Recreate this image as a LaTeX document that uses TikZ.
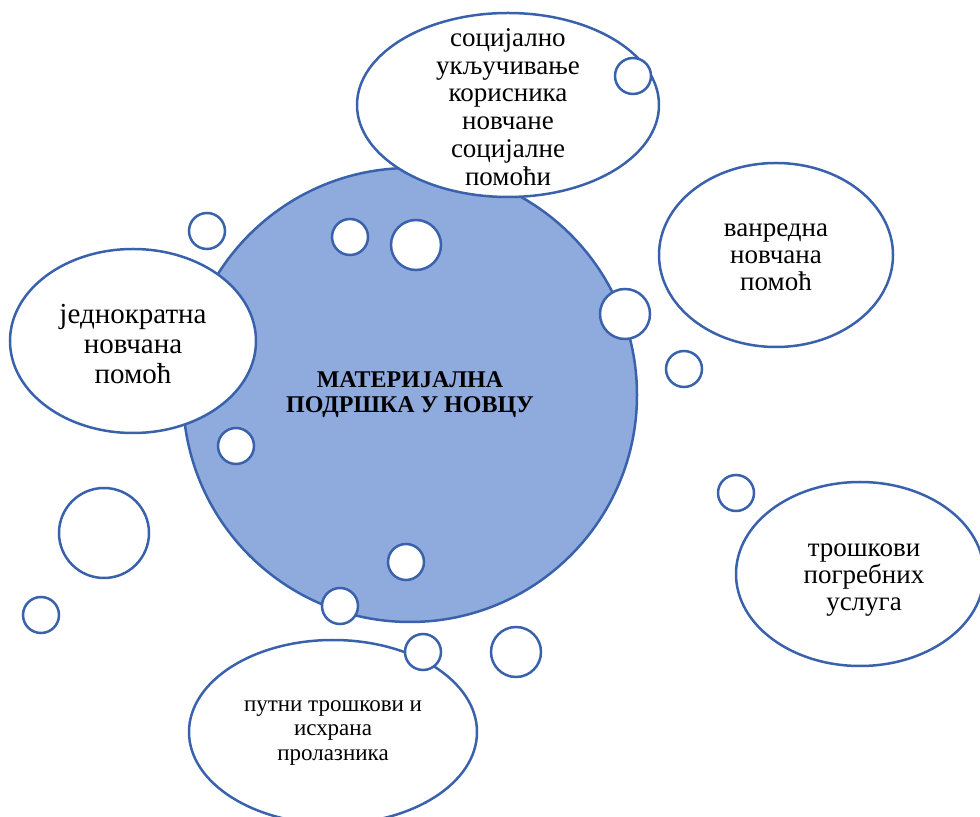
\documentclass[tikz,border=0pt]{standalone}
\usepackage{fontspec}
\setmainfont{Liberation Serif}
\usepackage{tikz}
\definecolor{bubbleline}{RGB}{58,98,172}
\definecolor{bigfill}{RGB}{143,170,220}
\begin{document}
\begin{tikzpicture}[x=0.5pt,y=-0.5pt,
  bubble/.style={draw=bubbleline,line width=1.25pt,fill=white},
  lbl/.style={align=center,text=black}]
\useasboundingbox (0,0) rectangle (980,817);
% central circle
\draw[bubble,fill=bigfill] (410,395) circle [radius=227];
\node[lbl,font=\fontsize{12}{12.5}\selectfont\bfseries] (centre) at (410,395) {МАТЕРИЈАЛНА\\ПОДРШКА У НОВЦУ};
% ellipses
\draw[bubble] (508,105) ellipse [x radius=151,y radius=92];
\draw[bubble] (133,341) ellipse [x radius=123,y radius=92];
\draw[bubble] (776,255) ellipse [x radius=117,y radius=92];
\draw[bubble] (860,574) ellipse [x radius=124,y radius=92];
\draw[bubble] (333,732) ellipse [x radius=144,y radius=92];
\node[lbl,font=\fontsize{13.5}{13.9}\selectfont] (social) at (508,107) {социјално\\укључивање\\корисника\\новчане\\социјалне\\помоћи};
\node[lbl,font=\fontsize{14.5}{15}\selectfont] (oneoff) at (133,344) {једнократна\\новчана\\помоћ};
\node[lbl,font=\fontsize{13.5}{13.5}\selectfont] (extra) at (776,257) {ванредна\\новчана\\помоћ};
\node[lbl,font=\fontsize{13.5}{13.5}\selectfont] (funeral) at (864,580) {трошкови\\погребних\\услуга};
\node[lbl,font=\fontsize{11.5}{12.3}\selectfont] (travel) at (333,733) {путни трошкови и\\исхрана\\пролазника};
% small bubbles
\draw[bubble] (633,76) circle [radius=18] (207,231) circle [radius=18] (350,237) circle [radius=18]
  (416,245) circle [radius=25] (625,314) circle [radius=25] (684,369) circle [radius=18];
\draw[bubble] (236,446) circle [radius=18] (736,493) circle [radius=18] (104,533) circle [radius=45]
  (406,562) circle [radius=18] (340,606) circle [radius=18] (41,615) circle [radius=18];
\draw[bubble] (423,652) circle [radius=18] (516,652) circle [radius=25];
\end{tikzpicture}
\end{document}
